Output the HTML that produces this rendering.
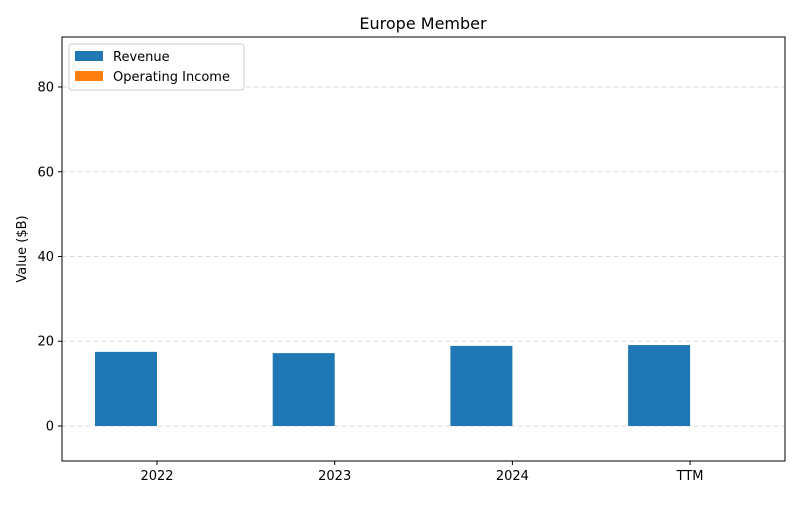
<!DOCTYPE html>
<html><head><meta charset="utf-8"><style>
body{margin:0;background:#fff;font-family:"Liberation Sans","DejaVu Sans",sans-serif;}
svg text{font-family:"DejaVu Sans","Liberation Sans",sans-serif;}
</style></head><body>
<svg id="chart" width="800" height="500" xmlns="http://www.w3.org/2000/svg">
<rect width="800" height="500" fill="#fff"/>
<text x="423" y="29" font-size="16" text-anchor="middle">Europe Member</text>
<g id="grid"></g><g id="bars"></g><g id="axes"></g>
</svg>
<script>
const categories=["2022","2023","2024","TTM"];
const revenue=[17.5,17.2,18.9,19.1];
const operatingIncome=[0,0,0,0];
const yTicks=[0,20,40,60,80];
const L=62,R=785,T=37,B=461,yMin=-8.26,yMax=91.8;
const ns="http://www.w3.org/2000/svg";
function y(v){return B-(v-yMin)/(yMax-yMin)*(B-T);}
const step=177.7,x0=157,bw=62;
function x(i){return x0+i*step;}
function mk(tag,attrs,parent){const e=document.createElementNS(ns,tag);for(const k in attrs)e.setAttribute(k,attrs[k]);parent.appendChild(e);return e;}
const grid=document.getElementById('grid'),bars=document.getElementById('bars'),axes=document.getElementById('axes');
yTicks.forEach(t=>{
 const g=mk('line',{x1:L,x2:R,y1:y(t),y2:y(t),stroke:'#d9d9d9','stroke-dasharray':'5,3','stroke-width':1},grid);
 
 
 const tk=mk('line',{x1:L-4,x2:L,y1:y(t),y2:y(t),stroke:'#000'},axes);
 
 
 const lb=mk('text',{x:L-8,y:y(t)+4.5,'font-size':13,'text-anchor':'end'},axes);
 lb.textContent=t;
 
 
});
categories.forEach((c,i)=>{
 const r=mk('rect',{x:x(i)-bw,y:Math.min(y(revenue[i]),y(0)),width:bw,height:Math.abs(y(0)-y(revenue[i])),fill:'#1f77b4'},bars);
 
 
 const o=mk('rect',{x:x(i),y:Math.min(y(operatingIncome[i]),y(0)),width:bw,height:Math.abs(y(0)-y(operatingIncome[i])),fill:'#ff7f0e'},bars);
 
 
 const tk=mk('line',{x1:x(i),x2:x(i),y1:B,y2:B+4,stroke:'#000'},axes);
 
 
 const lb=mk('text',{x:x(i),y:B+19,'font-size':13,'text-anchor':'middle'},axes);
 lb.textContent=c;
 
 
});
const fr=mk('rect',{x:L,y:T,width:R-L,height:B-T,fill:'none',stroke:'#000','stroke-width':1},axes);


const yt=mk('text',{x:26,y:249,'font-size':13,'text-anchor':'middle',transform:'rotate(-90 26 249)'},axes);
yt.textContent='Value ($B)';


const lg=mk('g',{},axes);


mk('rect',{x:69,y:44,width:175,height:46,rx:3,fill:'#fff',stroke:'#ccc'},lg);
[['Revenue','#1f77b4'],['Operating Income','#ff7f0e']].forEach((d,k)=>{
 const e=mk('g',{},lg);
 
 
 mk('rect',{x:75,y:51+k*20,width:28,height:10,fill:d[1]},e);
 const t=mk('text',{x:113,y:61+k*20,'font-size':13},e);
 t.textContent=d[0];
});
</script>
</body></html>
